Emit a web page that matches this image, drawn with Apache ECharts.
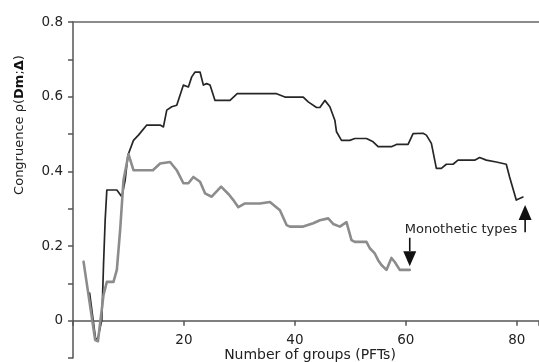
<!DOCTYPE html>
<html>
<head>
<meta charset="utf-8">
<script src="https://cdn.jsdelivr.net/npm/echarts@6/dist/echarts.min.js"></script>
<style>
html,body{margin:0;padding:0;background:#fff;}
#c{width:539px;height:362px;}
</style>
</head>
<body>
<div id="c"></div>
<script>
// ---- data ----
const blackX = [3, 4.1, 4.5, 5.2, 5.5, 5.8, 6.1, 7.9, 8.8, 9.4, 9.9, 10.9, 11.8, 13.3, 15.7, 16.3, 16.9, 17.8, 18.7, 19.9, 20.8, 21.4, 22.0, 22.9, 23.5, 24.1, 24.7, 25.6, 28.3, 29.6, 36.7, 38.2, 41.5, 42.4, 43.9, 44.5, 45.4, 46.3, 47.2, 47.5, 48.4, 49.9, 50.8, 52.9, 54.1, 55.0, 57.4, 58.3, 60.4, 61.3, 63.1, 63.7, 64.6, 65.5, 66.4, 67.3, 68.5, 69.4, 72.4, 73.3, 74.5, 76.3, 78.1, 78.7, 79.3, 79.9, 80.2, 81.1];
const blackY = [0.074, -0.052, -0.046, 0.002, 0.149, 0.27, 0.35, 0.35, 0.332, 0.376, 0.443, 0.483, 0.497, 0.524, 0.524, 0.519, 0.564, 0.573, 0.577, 0.631, 0.626, 0.653, 0.666, 0.666, 0.631, 0.635, 0.631, 0.59, 0.59, 0.608, 0.608, 0.599, 0.599, 0.586, 0.571, 0.571, 0.59, 0.573, 0.537, 0.506, 0.483, 0.483, 0.488, 0.488, 0.479, 0.466, 0.466, 0.472, 0.472, 0.501, 0.502, 0.497, 0.475, 0.408, 0.408, 0.419, 0.419, 0.43, 0.43, 0.437, 0.43, 0.425, 0.419, 0.385, 0.354, 0.323, 0.318, 0.331];

const grayX = [1.9, 4.0, 4.5, 5.5, 6.1, 7.3, 7.9, 8.5, 9.1, 10.0, 10.9, 14.4, 15.7, 17.5, 18.7, 19.9, 20.8, 21.7, 22.9, 23.8, 25.0, 26.7, 28.1, 28.9, 29.8, 31.0, 33.7, 35.5, 37.3, 38.5, 39.1, 41.5, 43.3, 44.5, 46.0, 46.9, 48.1, 49.3, 50.2, 50.8, 52.9, 53.5, 54.4, 55.0, 55.6, 56.5, 57.4, 58.0, 58.9, 60.7];
const grayY = [0.158, -0.052, -0.055, 0.069, 0.104, 0.104, 0.136, 0.243, 0.376, 0.446, 0.403, 0.403, 0.421, 0.425, 0.403, 0.368, 0.368, 0.385, 0.372, 0.341, 0.332, 0.359, 0.338, 0.323, 0.304, 0.314, 0.314, 0.318, 0.296, 0.256, 0.252, 0.252, 0.261, 0.269, 0.274, 0.259, 0.252, 0.264, 0.216, 0.211, 0.211, 0.194, 0.18, 0.162, 0.149, 0.136, 0.168, 0.157, 0.136, 0.136];

const xTicks = [20, 40, 60, 80];
const yLabels = [0, 0.2, 0.4, 0.6, 0.8];

const xTitle = 'Number of groups (PFTs)';
const annoText = 'Monothetic types';
const annoTextPos = [59.8, 0.243];
const arrowDown = [[60.7, 0.222], [60.7, 0.146]];
const arrowUp = [[81.5, 0.237], [81.5, 0.31]];

// ---- chart ----
const FONT = 'DejaVu Sans';
const chart = echarts.init(document.getElementById('c'), null, {renderer: 'canvas'});

function pairs(xs, ys) { return xs.map((x, i) => [x, ys[i]]); }

const option = {
  animation: false,
  backgroundColor: '#ffffff',
  grid: {left: 73, right: 0, top: 22, bottom: 4, containLabel: false, outerBoundsMode: 'none'},
  xAxis: [{
    type: 'value', min: 0, max: 84, interval: 20,
    axisLine: {show: true, onZero: true, lineStyle: {color: '#555', width: 1.5}},
    axisTick: {show: true, inside: false, length: 5, lineStyle: {color: '#555', width: 1.5}},
    axisLabel: {
      show: true, margin: -25, color: '#222', fontFamily: FONT, fontSize: 13.5,
      formatter: v => (xTicks.indexOf(v) >= 0 ? String(v) : '')
    },
    splitLine: {show: false}
  }, {
    type: 'value', position: 'top', min: 0, max: 84,
    axisLine: {show: true, onZero: false, lineStyle: {color: '#666', width: 1.5}},
    axisTick: {show: false}, axisLabel: {show: false}, splitLine: {show: false}
  }],
  yAxis: {
    type: 'value', min: -0.1, max: 0.8, interval: 0.1,
    axisLine: {show: true, onZero: false, lineStyle: {color: '#555', width: 1.5}},
    axisTick: {show: true, inside: false, length: 5, lineStyle: {color: '#555', width: 1.5}},
    axisLabel: {
      show: true, margin: 10, color: '#222', fontFamily: FONT, fontSize: 13.5,
      formatter: v => {
        const r = Math.round(v * 10) / 10;
        for (const l of yLabels) { if (Math.abs(l - r) < 1e-9) return String(l); }
        return '';
      }
    },
    splitLine: {show: false}
  },
  series: [{
    type: 'line', name: 'black', xAxisIndex: 0,
    data: pairs(blackX, blackY), showSymbol: false, symbol: 'none',
    lineStyle: {color: '#262626', width: 1.7, join: 'round', cap: 'round'},
    z: 2
  }, {
    type: 'line', name: 'gray', xAxisIndex: 0,
    data: pairs(grayX, grayY), showSymbol: false, symbol: 'none',
    lineStyle: {color: '#8c8c8c', width: 2.6, join: 'round', cap: 'round'},
    z: 3
  }]
};
chart.setOption(option);

function px(p) { return chart.convertToPixel({xAxisIndex: 0, yAxisIndex: 0}, p); }

function arrow(a) {
  const s = px(a[0]), t = px(a[1]);
  const dir = t[1] > s[1] ? 1 : -1;
  const headH = 15, headW = 13;
  const baseY = t[1] - dir * headH;
  return [{
    type: 'line', shape: {x1: s[0], y1: s[1], x2: t[0], y2: baseY},
    style: {stroke: '#111', lineWidth: 1.6}, z: 10
  }, {
    type: 'polygon',
    shape: {points: [[t[0], t[1]], [t[0] - headW / 2, baseY], [t[0] + headW / 2, baseY]]},
    style: {fill: '#111'}, z: 10
  }];
}

const tp = px(annoTextPos);
const graphics = [].concat(arrow(arrowDown), arrow(arrowUp), [{
  type: 'text', x: tp[0], y: tp[1],
  style: {text: annoText, fill: '#222', font: '13px "' + FONT + '"', align: 'left', verticalAlign: 'middle'},
  z: 10
}, {
  type: 'text', x: 310, y: 355,
  style: {text: xTitle, fill: '#222', font: '14px "' + FONT + '"', align: 'center', verticalAlign: 'middle'},
  z: 10
}, {
  type: 'text', x: 20, y: 125, rotation: Math.PI / 2,
  style: {
    text: '{a|Congruence ρ(}{b|Dm}{a|;}{b|Δ}{a|)}',
    align: 'center', verticalAlign: 'middle',
    rich: {
      a: {fontFamily: FONT, fontSize: 13, fill: '#222', color: '#222'},
      b: {fontFamily: FONT, fontSize: 13, fontWeight: 'bold', fill: '#111', color: '#111'}
    }
  },
  z: 10
}]);
chart.setOption({graphic: graphics});
</script>
</body>
</html>
